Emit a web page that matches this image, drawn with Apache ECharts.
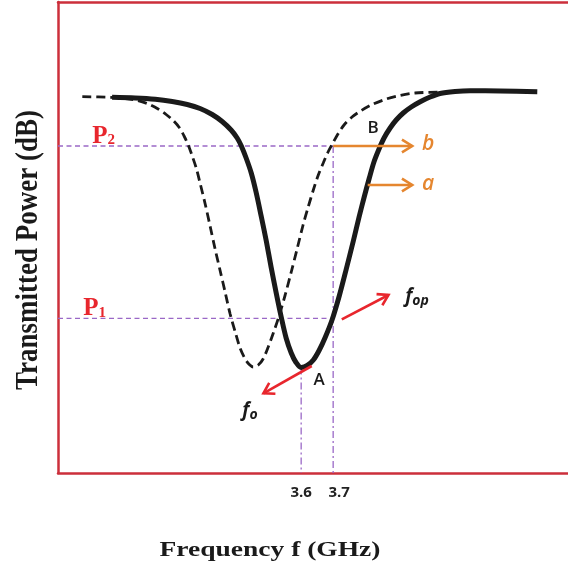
<!DOCTYPE html>
<html>
<head>
<meta charset="utf-8">
<script src="https://cdn.jsdelivr.net/npm/echarts@6/dist/echarts.min.js"></script>
<style>
  html, body { margin: 0; padding: 0; background: #ffffff; }
  #chart { width: 568px; height: 569px; }
</style>
</head>
<body>
<div id="chart"></div>
<script>
// Frequency axis range (GHz) and power axis range (dB)
const freqMin = 2.84;
const freqMax = 4.434;
const powerMin = -47.1;
const powerMax = 0;

// Labelled frequencies on the axis
const freqTicks = [3.6, 3.7];

// Resonance after the shift (solid curve)
const solidFreq = [3.009, 3.081, 3.144, 3.197, 3.244, 3.284, 3.322, 3.353, 3.381, 3.400, 3.413, 3.428, 3.444, 3.459,
  3.475, 3.491, 3.506, 3.522, 3.538, 3.553, 3.569, 3.584, 3.600, 3.619, 3.638, 3.656, 3.675, 3.697, 3.719, 3.741,
  3.763, 3.781, 3.797, 3.813, 3.828, 3.844, 3.859, 3.878, 3.897, 3.919, 3.944, 3.972, 4.003, 4.034, 4.081, 4.128,
  4.222, 4.338];
const solidPower = [-9.53, -9.60, -9.73, -9.95, -10.25, -10.65, -11.25, -11.95, -12.80, -13.60, -14.40, -15.60, -17.10, -19.00,
  -21.40, -23.90, -26.50, -29.10, -31.55, -33.60, -35.10, -36.05, -36.55, -36.35, -35.80, -34.85, -33.55, -31.75, -29.40, -26.70,
  -23.90, -21.50, -19.50, -17.60, -15.95, -14.65, -13.60, -12.60, -11.80, -11.10, -10.50, -9.97, -9.50, -9.15, -8.95, -8.87,
  -8.90, -8.97];

// Resonance before the shift (dashed curve)
const dashedFreq = [2.916, 3.003, 3.050, 3.088, 3.122, 3.153, 3.178, 3.200, 3.219, 3.234, 3.247, 3.259, 3.272, 3.284,
  3.300, 3.316, 3.331, 3.347, 3.363, 3.378, 3.394, 3.409, 3.425, 3.438, 3.450, 3.466, 3.481, 3.497, 3.513, 3.531,
  3.550, 3.569, 3.588, 3.606, 3.622, 3.638, 3.653, 3.669, 3.684, 3.700, 3.716, 3.734, 3.759, 3.788, 3.822, 3.866,
  3.909, 3.956, 4.034];
const dashedPower = [-9.47, -9.53, -9.65, -9.85, -10.20, -10.70, -11.25, -11.85, -12.55, -13.40, -14.30, -15.35, -16.60, -18.10,
  -20.20, -22.50, -24.70, -26.90, -29.10, -31.20, -33.00, -34.60, -35.70, -36.25, -36.50, -36.30, -35.70, -34.50, -33.10, -31.40,
  -29.30, -27.00, -24.60, -22.30, -20.50, -18.80, -17.35, -16.10, -15.00, -14.05, -13.15, -12.30, -11.50, -10.85, -10.25, -9.70,
  -9.35, -9.10, -9.00];

// Power levels P2 and P1
const levelNames = ['P2', 'P1'];
const levelPower = [-14.4, -31.63];

// Resonance dip value at f0
const dipPower = -36.55;

// Arrows: start (freq, power) -> end (freq, power)
const orangeArrowFrom = [[3.700, -14.4], [3.808, -18.3]];
const orangeArrowTo = [[3.947, -14.4], [3.947, -18.3]];
const redArrowFrom = [[3.727, -31.73], [3.633, -36.4]];
const redArrowTo = [[3.873, -29.3], [3.482, -39.13]];

// Annotation anchors
const noteText = ['B', 'A', 'b', 'a', 'fop', 'fo', 'P2', 'P1'];
const noteFreq = [3.825, 3.656, 3.997, 3.997, 3.925, 3.416, 2.947, 2.919];
const notePower = [-12.6, -37.8, -14.2, -18.2, -29.5, -40.9, -13.45, -30.7];

const pair = (xs, ys) => xs.map((x, i) => [x, ys[i]]);

const purple = '#9a68c6';
const orange = '#e5862f';
const red = '#e8262d';
const frameRed = '#cc2f3b';
const ink = '#1a1a1a';

function arrowRenderer(color, width, headLen, spread) {
  return function (params, api) {
    const a = api.coord([api.value(0), api.value(1)]);
    const b = api.coord([api.value(2), api.value(3)]);
    const ang = Math.atan2(b[1] - a[1], b[0] - a[0]);
    const h1 = [b[0] - headLen * Math.cos(ang - spread), b[1] - headLen * Math.sin(ang - spread)];
    const h2 = [b[0] - headLen * Math.cos(ang + spread), b[1] - headLen * Math.sin(ang + spread)];
    return {
      type: 'group',
      children: [
        { type: 'line', shape: { x1: a[0], y1: a[1], x2: b[0], y2: b[1] },
          style: { stroke: color, lineWidth: width } },
        { type: 'polyline', shape: { points: [h1, b, h2] },
          style: { stroke: color, lineWidth: width, fill: null, lineJoin: 'miter' } }
      ]
    };
  };
}

// Text styling for each annotation
function noteStyle(label) {
  const sans = '"Open Sans", "Noto Sans", sans-serif';
  const serif = '"Liberation Serif", "Times New Roman", serif';
  switch (label) {
    case 'A':
    case 'B':
      return { text: label, font: '600 17px ' + sans, fill: ink, align: 'center', verticalAlign: 'middle' };
    case 'a':
    case 'b':
      return { text: label, font: 'italic 600 21px ' + sans, fill: orange, align: 'center', verticalAlign: 'middle' };
    case 'fop':
    case 'fo':
      return {
        text: '{f|f}{s|' + label.slice(1) + '}', align: 'left', verticalAlign: 'middle',
        rich: {
          f: { font: 'italic bold 19px ' + sans, fill: ink, verticalAlign: 'bottom' },
          s: { font: 'italic bold 14px ' + sans, fill: ink, verticalAlign: 'bottom', padding: [0, 0, -2, 0] }
        }
      };
    default:
      return {
        text: '{p|P}{s|' + label.slice(1) + '}', align: 'left', verticalAlign: 'middle',
        rich: {
          p: { font: 'bold 25px ' + serif, fill: red, verticalAlign: 'bottom' },
          s: { font: 'bold 15px ' + serif, fill: red, verticalAlign: 'bottom', padding: [0, 0, 1, 0] }
        }
      };
  }
}

const refLine = (data, dash) => ({
  type: 'line', data: data, showSymbol: false, silent: true, z: 1,
  lineStyle: { color: purple, width: 1.3, type: dash }
});

const frameLine = { show: true, onZero: false, lineStyle: { color: frameRed, width: 2.5 } };

const chart = echarts.init(document.getElementById('chart'), null, { renderer: 'canvas' });

chart.setOption({
  animation: false,
  backgroundColor: '#ffffff',
  grid: { left: 58, right: 0, top: 2, bottom: 96 },
  xAxis: [
    {
      type: 'value', min: freqMin, max: freqMax, position: 'bottom',
      axisLine: frameLine, axisTick: { show: false }, splitLine: { show: false },
      axisLabel: {
        customValues: freqTicks, margin: 12, color: '#222',
        fontFamily: '"Open Sans", sans-serif', fontWeight: 'bold', fontSize: 15,
        formatter: v => (Math.abs(v - freqTicks[1]) < 1e-9 ? '{r|' : '{l|') + v.toFixed(1) + '}',
        rich: {
          l: { fontFamily: '"Open Sans", sans-serif', fontWeight: 'bold', fontSize: 15, color: '#222' },
          r: { fontFamily: '"Open Sans", sans-serif', fontWeight: 'bold', fontSize: 15, color: '#222', padding: [0, 0, 0, 12] }
        }
      }
    },
    {
      type: 'value', min: freqMin, max: freqMax, position: 'top',
      axisLine: frameLine, axisTick: { show: false }, splitLine: { show: false }, axisLabel: { show: false }
    }
  ],
  yAxis: {
    type: 'value', min: powerMin, max: powerMax,
    axisLine: frameLine, axisTick: { show: false }, splitLine: { show: false }, axisLabel: { show: false }
  },
  graphic: [
    {
      type: 'text', x: 29, y: 250, rotation: Math.PI / 2, scaleY: 1.2,
      style: { text: 'Transmitted Power (dB)', font: 'bold 27px "Liberation Serif", serif',
        fill: ink, align: 'center', verticalAlign: 'middle' }
    },
    {
      type: 'text', x: 270, y: 550, scaleX: 1.25,
      style: { text: 'Frequency f (GHz)', font: 'bold 22px "Liberation Serif", serif',
        fill: ink, align: 'center', verticalAlign: 'middle' }
    }
  ],
  series: [
    refLine([[freqMin, levelPower[0]], [freqTicks[1], levelPower[0]]], [5, 3.5]),
    refLine([[freqMin, levelPower[1]], [freqTicks[1], levelPower[1]]], [5, 3.5]),
    refLine([[freqTicks[0], dipPower], [freqTicks[0], powerMin]], [7, 3, 2, 3]),
    refLine([[freqTicks[1], levelPower[0]], [freqTicks[1], powerMin]], [7, 3, 2, 3]),
    {
      name: 'before', type: 'line', data: pair(dashedFreq, dashedPower), showSymbol: false,
      smooth: 0.3, z: 3,
      lineStyle: { color: ink, width: 2.8, type: [9, 5] }
    },
    {
      name: 'after', type: 'line', data: pair(solidFreq, solidPower), showSymbol: false,
      smooth: 0.3, z: 4,
      lineStyle: { color: ink, width: 5, join: 'round' }
    },
    {
      type: 'custom', z: 5, encode: { x: [0, 2], y: [1, 3] },
      data: orangeArrowFrom.map((p, i) => p.concat(orangeArrowTo[i])),
      renderItem: arrowRenderer(orange, 2.6, 12, 0.55)
    },
    {
      type: 'custom', z: 5, encode: { x: [0, 2], y: [1, 3] },
      data: redArrowFrom.map((p, i) => p.concat(redArrowTo[i])),
      renderItem: arrowRenderer(red, 2.6, 12, 0.55)
    },
    {
      type: 'custom', z: 6, encode: { x: 0, y: 1 },
      data: pair(noteFreq, notePower),
      renderItem: (params, api) => {
        const p = api.coord([api.value(0), api.value(1)]);
        return { type: 'text', x: p[0], y: p[1], style: noteStyle(noteText[params.dataIndex]) };
      }
    }
  ]
});
</script>
</body>
</html>
